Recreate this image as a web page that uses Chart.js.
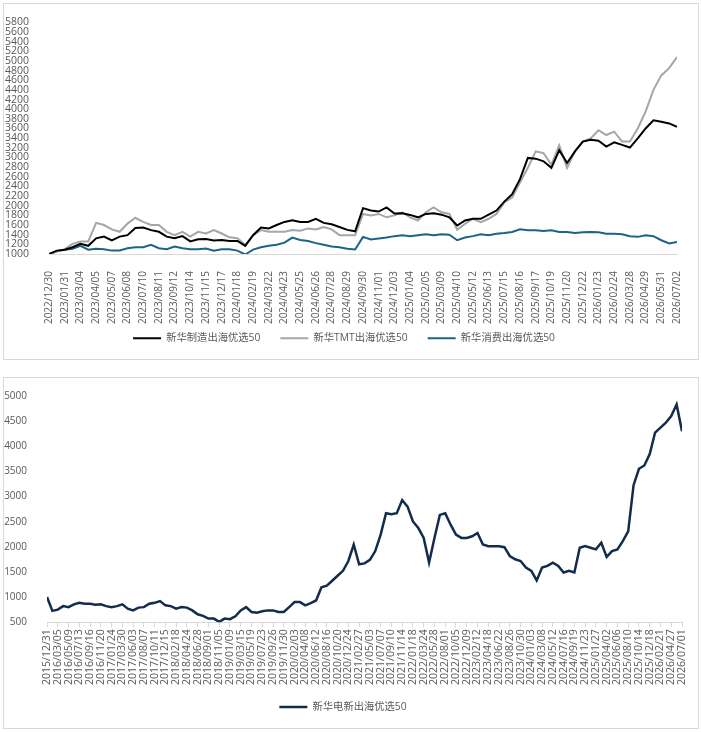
<!DOCTYPE html>
<html>
<head>
<meta charset="utf-8">
<script src="https://cdn.jsdelivr.net/npm/chart.js@4.4.1/dist/chart.umd.min.js"></script>
<style>
body{margin:0;background:#fff;}
.box{position:absolute;left:3px;width:694px;border:1px solid #d9d9d9;}
#b1{top:3px;height:355px;}
#b2{top:377px;height:350px;}
canvas{display:block;}
</style>
</head>
<body>
<div class="box" id="b1"><canvas id="c1" width="694" height="355"></canvas></div>
<div class="box" id="b2"><canvas id="c2" width="694" height="350"></canvas></div>
<script>
// top chart: one value every half tick interval (16 days)
const topTicks = ["2022/12/30","2023/01/31","2023/03/04","2023/04/05","2023/05/07","2023/06/08","2023/07/10","2023/08/11","2023/09/12","2023/10/14","2023/11/15","2023/12/17","2024/01/18","2024/02/19","2024/03/22","2024/04/23","2024/05/25","2024/06/26","2024/07/28","2024/08/29","2024/09/30","2024/11/01","2024/12/03","2025/01/04","2025/02/05","2025/03/09","2025/04/10","2025/05/12","2025/06/13","2025/07/15","2025/08/16","2025/09/17","2025/10/19","2025/11/20","2025/12/22","2026/01/23","2026/02/24","2026/03/28","2026/04/29","2026/05/31","2026/07/02"];

const manufacture = [1000,1070,1090,1140,1210,1170,1325,1360,1280,1360,
	1390,1540,1550,1495,1460,1360,1325,1370,1260,1305,
	1310,1280,1290,1270,1270,1170,1390,1550,1530,1600,
	1665,1700,1665,1665,1730,1645,1615,1560,1500,1470,
	1950,1900,1880,1965,1840,1845,1810,1760,1830,1845,
	1815,1760,1590,1695,1730,1730,1815,1900,2085,2240,
	2550,2990,2975,2920,2785,3150,2885,3125,3330,3365,
	3345,3225,3315,3260,3205,3395,3600,3770,3740,3705,
	3635];

const tmt = [1000,1055,1100,1210,1260,1260,1645,1600,1510,1460,
	1630,1750,1665,1600,1600,1460,1390,1460,1360,1460,
	1425,1495,1425,1345,1325,1190,1390,1495,1460,1460,
	1460,1495,1480,1530,1510,1560,1510,1390,1390,1390,
	1830,1800,1830,1760,1800,1865,1760,1695,1865,1965,
	1865,1830,1505,1625,1730,1660,1730,1830,2070,2170,
	2480,2785,3125,3090,2850,3250,2785,3125,3330,3395,
	3565,3465,3535,3330,3330,3600,3950,4400,4700,4850,
	5080];

const consumer = [1000,1055,1090,1110,1170,1090,1110,1100,1070,1075,
	1120,1140,1140,1190,1120,1100,1155,1120,1100,1100,
	1115,1070,1100,1100,1070,990,1090,1140,1170,1190,
	1235,1340,1290,1270,1225,1190,1155,1140,1110,1095,
	1355,1300,1320,1340,1370,1390,1370,1390,1410,1390,
	1410,1400,1285,1340,1370,1410,1390,1420,1435,1455,
	1510,1490,1490,1475,1490,1455,1455,1435,1450,1455,
	1450,1420,1420,1410,1370,1355,1390,1370,1285,1220,
	1250];

// bottom chart: one value every half tick interval (about 32 days)
const bottomTicks = ["2015/12/31","2016/03/05","2016/05/09","2016/07/13","2016/09/16","2016/11/20","2017/01/24","2017/03/30","2017/06/03","2017/08/07","2017/10/11","2017/12/15","2018/02/18","2018/04/24","2018/06/28","2018/09/01","2018/11/05","2019/01/09","2019/03/15","2019/05/19","2019/07/23","2019/09/26","2019/11/30","2020/02/03","2020/04/08","2020/06/12","2020/08/16","2020/10/20","2020/12/24","2021/02/27","2021/05/03","2021/07/07","2021/09/10","2021/11/14","2022/01/18","2022/03/24","2022/05/28","2022/08/01","2022/10/05","2022/12/09","2023/02/12","2023/04/18","2023/06/22","2023/08/26","2023/10/30","2024/01/03","2024/03/08","2024/05/12","2024/07/16","2024/09/19","2024/11/23","2025/01/27","2025/04/02","2025/06/06","2025/08/10","2025/10/14","2025/12/18","2026/02/21","2026/04/27","2026/07/01"];

const powerNew = [1000,725,750,820,800,855,885,867,867,847,
	855,820,800,820,855,770,735,790,800,867,
	885,920,835,820,770,800,790,735,657,625,
	572,572,507,572,560,618,735,800,703,690,
	716,735,735,703,703,800,900,900,835,880,
	932,1194,1227,1325,1424,1522,1718,2046,1653,1670,
	1740,1915,2242,2668,2650,2668,2930,2800,2505,2373,
	2177,1685,2177,2635,2668,2440,2242,2177,2177,2210,
	2275,2046,2013,2013,2013,1993,1817,1751,1718,1587,
	1522,1330,1587,1620,1685,1620,1489,1522,1489,1980,
	2013,1980,1948,2079,1800,1915,1948,2111,2308,3225,
	3552,3618,3847,4273,4371,4469,4600,4830,4300];

Chart.defaults.font.family = "'Open Sans', 'Noto Sans CJK SC', sans-serif";
Chart.defaults.color = "#595959";

function toPoints(values) {
	return values.map((v, i) => ({ x: i * 0.5, y: v }));
}

// nudge the legend vertically after layout
const legendShift = {
	id: "legendShift",
	afterLayout(chart, args, opts) {
		const l = chart.legend;
		if (l && opts.dy) {
			l.top += opts.dy;
			l.bottom += opts.dy;
		}
	}
};

function legendOpts(pad) {
	return {
		position: "bottom",
		labels: {
			usePointStyle: true,
			pointStyle: "line",
			pointStyleWidth: 28,
			padding: pad,
			color: "#595959",
			font: { size: 10.3 }
		}
	};
}

new Chart(document.getElementById("c1"), {
	type: "line",
	plugins: [legendShift],
	data: {
		datasets: [
			{ label: "新华制造出海优选50", data: toPoints(manufacture), borderColor: "#000000", backgroundColor: "#000000", borderWidth: 2 },
			{ label: "新华TMT出海优选50", data: toPoints(tmt), borderColor: "#a6a6a6", backgroundColor: "#a6a6a6", borderWidth: 2 },
			{ label: "新华消费出海优选50", data: toPoints(consumer), borderColor: "#1a6488", backgroundColor: "#1a6488", borderWidth: 2 }
		]
	},
	options: {
		responsive: false,
		animation: false,
		devicePixelRatio: 1,
		elements: { point: { radius: 0 }, line: { tension: 0 } },
		layout: { padding: { top: 15, right: 14, bottom: -10.3, left: 0 } },
		plugins: { legend: legendOpts(20), legendShift: { dy: -16 }, tooltip: { enabled: false } },
		scales: {
			x: {
				type: "linear",
				min: 0,
				max: topTicks.length - 1,
				grid: { display: false },
				border: { display: true, color: "#d9d9d9" },
				ticks: {
					stepSize: 1, autoSkip: false, maxRotation: 90, minRotation: 90, padding: 9,
					font: { size: 10 },
					callback: v => topTicks[Math.round(v)]
				},
				afterFit: s => { s.height = 75; }
			},
			y: {
				min: 1000,
				max: 5800,
				grid: { display: false },
				border: { display: false },
				ticks: { stepSize: 200, autoSkip: false, padding: 12, font: { size: 10.5 }, callback: v => String(v) },
				afterFit: s => { s.width = 45; }
			}
		}
	}
});

new Chart(document.getElementById("c2"), {
	type: "line",
	data: {
		datasets: [
			{ label: "新华电新出海优选50", data: toPoints(powerNew), borderColor: "#132c4a", backgroundColor: "#132c4a", borderWidth: 2.5 }
		]
	},
	options: {
		responsive: false,
		animation: false,
		devicePixelRatio: 1,
		elements: { point: { radius: 0 }, line: { tension: 0 } },
		layout: { padding: { top: 15, right: 16, bottom: 5.75, left: 0 } },
		plugins: { legend: legendOpts(10), tooltip: { enabled: false } },
		scales: {
			x: {
				type: "linear",
				min: 0,
				max: bottomTicks.length - 1,
				grid: { display: true, drawOnChartArea: false, drawTicks: true, tickLength: 5, color: "#d9d9d9" },
				border: { display: true, color: "#d9d9d9" },
				ticks: {
					stepSize: 1, autoSkip: false, maxRotation: 90, minRotation: 90, padding: 2,
					font: { size: 10.5 },
					callback: v => bottomTicks[Math.round(v)]
				},
				afterFit: s => { s.height = 69.75; }
			},
			y: {
				min: 500,
				max: 5000,
				grid: { display: false },
				border: { display: false },
				ticks: { stepSize: 500, autoSkip: false, padding: 12, font: { size: 10 }, callback: v => String(v) },
				afterFit: s => { s.width = 43; }
			}
		}
	}
});
</script>
</body>
</html>
